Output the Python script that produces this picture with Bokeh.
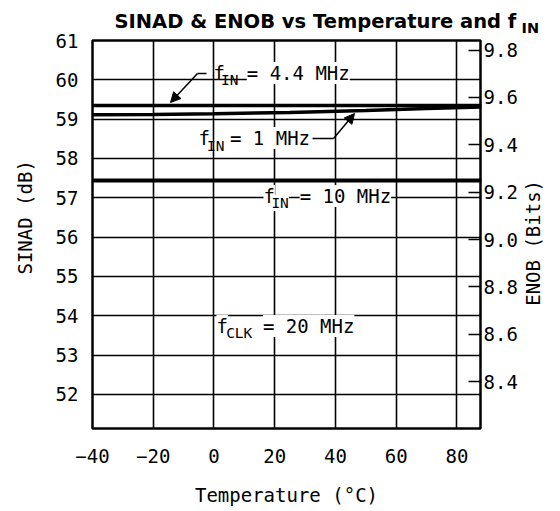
import math
from bokeh.plotting import figure
from bokeh.models import (Range1d, LinearAxis, FixedTicker, PrintfTickFormatter,
                          Label, Arrow, NormalHead, Title)
from bokeh.embed import file_html
from bokeh.resources import INLINE

# ---- data ----
temps_1mhz = [-40, -20, 0, 25, 50, 70, 88]
sinad_1mhz = [59.11, 59.12, 59.14, 59.17, 59.22, 59.27, 59.31]
temps_4_4mhz = [-40, 88]
sinad_4_4mhz = [59.35, 59.35]
temps_10mhz = [-40, 88]
sinad_10mhz = [57.44, 57.44]

x_ticks = [-40, -20, 0, 20, 40, 60, 80]
sinad_ticks = [52, 53, 54, 55, 56, 57, 58, 59, 60, 61]
enob_ticks = [8.4, 8.6, 8.8, 9.0, 9.2, 9.4, 9.6, 9.8]

X0, X1 = -40, 87.75
Y0, Y1 = 51.135, 61.0

MONO = "DejaVu Sans Mono"
FS = "19px"
SUB = "14.5px"
DY = 0.19            # lift for in-plot labels
ENOB_TITLE_AT = 8.72  # where the rotated ENOB title starts

p = figure(width=560, height=509, output_backend="svg", toolbar_location=None,
           x_range=Range1d(X0, X1), y_range=Range1d(Y0, Y1),
           min_border_left=92, min_border_right=80, min_border_top=40, min_border_bottom=81)
p.extra_y_ranges = {"enob": Range1d((Y0 - 1.76) / 6.02, (Y1 - 1.76) / 6.02)}

p.title.text = "SINAD & ENOB vs Temperature and f"
p.title.text_font = "DejaVu Sans"
p.title.text_font_style = "bold"
p.title.text_font_size = "19.5px"
p.title.text_color = "black"
p.title.align = "left"
p.title.offset = 22
p.title.standoff = -39.4

sub = Title(text="IN", text_font="DejaVu Sans", text_font_style="bold",
            text_font_size="14.5px", text_color="black", align="left",
            offset=429, standoff=9.2)
p.add_layout(sub, "above")

p.outline_line_color = "black"
p.outline_line_width = 2.5
p.background_fill_color = "white"
p.border_fill_color = "white"

for ax in (p.xaxis[0], p.yaxis[0]):
    ax.axis_line_color = None
    ax.major_tick_line_color = None
    ax.minor_tick_line_color = None
    ax.major_label_text_font = MONO
    ax.major_label_text_font_size = FS
    ax.major_label_text_color = "black"
    ax.axis_label_text_font = MONO
    ax.axis_label_text_font_size = FS
    ax.axis_label_text_font_style = "normal"
    ax.axis_label_text_color = "black"

p.xaxis.ticker = FixedTicker(ticks=x_ticks)
p.xaxis.axis_label = "Temperature (°C)"
p.xaxis.major_label_standoff = 14
p.xaxis.axis_label_standoff = 18

p.yaxis.ticker = FixedTicker(ticks=sinad_ticks)
p.yaxis.axis_label = "\u00a0\u00a0\u00a0SINAD (dB)"
p.yaxis.major_label_standoff = 8
p.yaxis.axis_label_standoff = 17

# right axis: ENOB tick labels with inward ticks
ax2 = LinearAxis(y_range_name="enob", ticker=FixedTicker(ticks=enob_ticks),
                 formatter=PrintfTickFormatter(format="%.1f"))
ax2.axis_line_color = None
ax2.major_tick_in = 12
ax2.major_tick_out = 0
ax2.major_tick_line_color = "black"
ax2.major_tick_line_width = 1.5
ax2.minor_tick_line_color = None
ax2.major_label_text_font = MONO
ax2.major_label_text_font_size = FS
ax2.major_label_text_color = "black"
ax2.major_label_standoff = 3
p.add_layout(ax2, "right")

# right axis title "ENOB (Bits)", reading bottom to top
ax3 = LinearAxis(y_range_name="enob", ticker=FixedTicker(ticks=[ENOB_TITLE_AT]),
                 major_label_overrides={ENOB_TITLE_AT: "ENOB (Bits)"})
ax3.axis_line_color = None
ax3.major_tick_line_color = None
ax3.minor_tick_line_color = None
ax3.major_tick_in = 0
ax3.major_tick_out = 0
ax3.major_label_orientation = math.pi / 2
ax3.major_label_text_font = MONO
ax3.major_label_text_font_size = FS
ax3.major_label_text_color = "black"
ax3.major_label_standoff = 13
p.add_layout(ax3, "right")

p.xgrid.ticker = FixedTicker(ticks=x_ticks[1:])
p.ygrid.ticker = FixedTicker(ticks=sinad_ticks[:-1])
for g in (p.xgrid[0], p.ygrid[0]):
    g.grid_line_color = "black"
    g.grid_line_width = 1.6
    g.grid_line_alpha = 1.0

# ---- series ----
p.line(temps_4_4mhz, sinad_4_4mhz, line_color="black", line_width=3.5, level="overlay")
p.line(temps_1mhz, sinad_1mhz, line_color="black", line_width=3.5, level="overlay")
p.line(temps_10mhz, sinad_10mhz, line_color="black", line_width=4, level="overlay")

# ---- annotations ----
def txt(x, y, s, size=FS, bg=None):
    lab = Label(x=x, y=y + DY, text=s, text_font=MONO, text_font_size=size,
                text_color="black", text_baseline="alphabetic", text_align="left")
    if bg:
        lab.background_fill_color = bg
    p.add_layout(lab)

def arrow(xs, ys, xe, ye):
    p.add_layout(Arrow(end=NormalHead(size=10, fill_color="black", line_color="black"),
                       x_start=xs, y_start=ys, x_end=xe, y_end=ye,
                       line_color="black", line_width=1.5, level="overlay"))

# f_IN = 4.4 MHz
txt(10.8, 59.983, "= 4.4 MHz", bg="white")
txt(-0.2, 59.983, "f")
txt(2.3, 59.805, "IN", size=SUB)
p.line([-2.46, -5.43], [60.161, 60.161], line_color="black", line_width=1.5)
arrow(-5.43, 60.161, -14.32, 59.424)

# f_IN = 1 MHz
txt(5.25, 58.33, "= 1 MHz", bg="white")
txt(-5.1, 58.33, "f")
txt(-2.27, 58.127, "IN", size=SUB)
p.line([32.44, 39.36], [58.508, 58.508], line_color="black", line_width=1.5)
arrow(39.36, 58.508, 46.27, 59.144)

# f_IN = 10 MHz
txt(28.2, 56.856, "= 10 MHz", bg="white")
txt(16.3, 56.856, "f", bg="white")
txt(18.9, 56.68, "IN", size=SUB, bg="white")

# f_CLK = 20 MHz
txt(16.1, 53.55, "= 20 MHz", bg="white")
txt(0.83, 53.55, "f", bg="white")
txt(4.0, 53.37, "CLK", size=SUB, bg="white")

open("out.html", "w").write(file_html(p, INLINE))
